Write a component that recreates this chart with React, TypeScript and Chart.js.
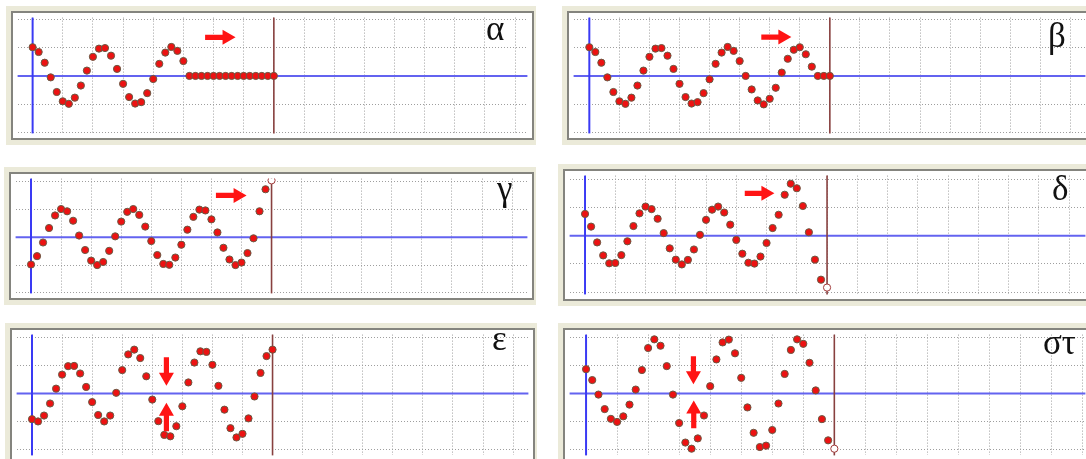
import React, { useEffect, useRef } from 'react';
import { Chart, registerables } from 'chart.js';

Chart.register(...registerables);

// ---------- data ----------
const xPositions = [
  0, 0.2, 0.4, 0.6, 0.8, 1, 1.2, 1.4, 1.6, 1.8, 2, 2.2, 2.4, 2.6, 2.8, 3, 3.2, 3.4, 3.6, 3.8, 4,
  4.2, 4.4, 4.6, 4.8, 5, 5.2, 5.4, 5.6, 5.8, 6, 6.2, 6.4, 6.6, 6.8, 7, 7.2, 7.4, 7.6, 7.8, 8,
];

const alphaValues = [
  1.02, 0.85, 0.47, -0.05, -0.57, -0.9, -0.99, -0.77, -0.34, 0.19, 0.68, 0.97, 0.99, 0.72, 0.25,
  -0.28, -0.75, -0.98, -0.93, -0.61, -0.11, 0.43, 0.83, 1.03, 0.89, 0.53, 0, 0, 0, 0, 0, 0, 0, 0,
  0, 0, 0, 0, 0, 0, 0,
];
const betaValues = [
  1.02, 0.85, 0.47, -0.05, -0.57, -0.9, -0.99, -0.77, -0.34, 0.19, 0.68, 0.97, 0.99, 0.72, 0.25,
  -0.28, -0.75, -0.98, -0.93, -0.61, -0.12, 0.43, 0.83, 1.03, 0.89, 0.53, 0.0, -0.48, -0.87, -1.01,
  -0.81, -0.42, 0.12, 0.61, 0.93, 1.02, 0.77, 0.33, 0, 0, 0,
];
const gammaValues = [
  -0.98, -0.68, -0.19, 0.33, 0.78, 1.01, 0.93, 0.59, 0.06, -0.46, -0.84, -1.0, -0.89, -0.49, 0.03,
  0.56, 0.91, 1.01, 0.8, 0.38, -0.14, -0.64, -0.96, -0.99, -0.73, -0.27, 0.27, 0.73, 0.99, 0.96,
  0.64, 0.17, -0.38, -0.8, -1.0, -0.91, -0.57, -0.04, 0.93, 1.72, 2.04,
];
const deltaValues = [
  0.77, 0.32, -0.24, -0.7, -0.98, -0.97, -0.69, -0.2, 0.34, 0.79, 1.03, 0.94, 0.6, 0.09, -0.45,
  -0.85, -1.02, -0.86, -0.49, 0.03, 0.56, 0.92, 1.03, 0.82, 0.39, -0.15, -0.64, -0.96, -0.99,
  -0.74, -0.26, 0.27, 0.74, 1.45, 1.84, 1.68, 1.05, 0.12, -0.85, -1.56, -1.84,
];
const epsilonValues = [
  -0.92, -1.0, -0.79, -0.36, 0.17, 0.67, 0.97, 0.98, 0.71, 0.23, -0.31, -0.77, -1.0, -0.79, 0.02,
  0.83, 1.39, 1.56, 1.26, 0.61, -0.22, -0.99, -1.48, -1.53, -1.17, -0.46, 0.39, 1.1, 1.5, 1.48,
  1.02, 0.27, -0.58, -1.24, -1.57, -1.44, -0.89, -0.11, 0.73, 1.33, 1.56,
];
const sigmaTauValues = [
  0.87, 0.48, -0.04, -0.56, -0.91, -1.02, -0.82, -0.4, 0.14, 0.84, 1.63, 1.94, 1.71, 0.98, -0.04,
  -1.06, -1.76, -1.98, -1.61, -0.79, 0.26, 1.22, 1.83, 1.93, 1.44, 0.56, -0.5, -1.41, -1.92, -1.87,
  -1.31, -0.36, 0.7, 1.56, 1.94, 1.78, 1.1, 0.11, -0.92, -1.68, -1.98,
];

const alphaArrows = [{ x1: 5.72, y1: 1.37, x2: 6.73, y2: 1.37 }];
const betaArrows = [{ x1: 5.72, y1: 1.38, x2: 6.72, y2: 1.38 }];
const gammaArrows = [{ x1: 6.15, y1: 1.5, x2: 7.17, y2: 1.5 }];
const deltaArrows = [{ x1: 5.28, y1: 1.5, x2: 6.26, y2: 1.5 }];
const epsilonArrows = [
  { x1: 4.47, y1: 1.29, x2: 4.47, y2: 0.27 },
  { x1: 4.47, y1: -1.35, x2: 4.47, y2: -0.33 },
];
const sigmaTauArrows = [
  { x1: 3.46, y1: 1.33, x2: 3.46, y2: 0.33 },
  { x1: 3.47, y1: -1.25, x2: 3.47, y2: -0.25 },
];

const gridXValues = [0, 1, 2, 3, 4, 5, 6, 7, 8, 9, 10, 11, 12, 13, 14, 15, 16];
const gridYValues = [-2, -1, 0, 1, 2];
const stringEndX = 8;

// ---------- layout ----------
type Arrow = { x1: number; y1: number; x2: number; y2: number };
type PanelSpec = {
  label: string;
  values: number[];
  arrows: Arrow[];
  hollowEnd: boolean;
  left: number;
  top: number;
  width: number;
  height: number;
  xMin: number;
  xMax: number;
  yMin: number;
  yMax: number;
  labelLeft: number;
  labelBaseline: number;
};

const panels: PanelSpec[] = [
  { label: 'α', values: alphaValues, arrows: alphaArrows, hollowEnd: false,
    left: 13, top: 13, width: 519, height: 125, xMin: -0.498, xMax: 16.408, yMin: -2.04, yMax: 2.072,
    labelLeft: 486, labelBaseline: 41 },
  { label: 'β', values: betaValues, arrows: betaArrows, hollowEnd: false,
    left: 569, top: 13, width: 521, height: 125, xMin: -0.523, xMax: 16.5, yMin: -2.04, yMax: 2.072,
    labelLeft: 1048, labelBaseline: 48 },
  { label: 'γ', values: gammaValues, arrows: gammaArrows, hollowEnd: true,
    left: 11, top: 174, width: 521, height: 124, xMin: -0.513, xMax: 16.51, yMin: -2.017, yMax: 2.103,
    labelLeft: 497, labelBaseline: 201 },
  { label: 'δ', values: deltaValues, arrows: deltaArrows, hollowEnd: true,
    left: 565, top: 171, width: 525, height: 128, xMin: -0.51, xMax: 16.54, yMin: -2.082, yMax: 2.128,
    labelLeft: 1052, labelBaseline: 201 },
  { label: 'ε', values: epsilonValues, arrows: epsilonArrows, hollowEnd: false,
    left: 12, top: 330, width: 521, height: 130, xMin: -0.513, xMax: 16.51, yMin: -2.21, yMax: 2.096,
    labelLeft: 492, labelBaseline: 351 },
  { label: 'στ', values: sigmaTauValues, arrows: sigmaTauArrows, hollowEnd: true,
    left: 565, top: 330, width: 525, height: 130, xMin: -0.53, xMax: 16.09, yMin: -2.22, yMax: 2.11,
    labelLeft: 1043, labelBaseline: 355 },
];

// ---------- plugin: axis lines, end line, arrows ----------
const markupPlugin = {
  id: 'markup',
  beforeDatasetsDraw(chart: any, _args: any, opts: any) {
    const { ctx, chartArea } = chart;
    const { left, right, top, bottom } = chartArea;
    const xs = chart.scales.x;
    const ys = chart.scales.y;
    ctx.save();
    const y0 = ys.getPixelForValue(0);
    ctx.strokeStyle = '#6363f0';
    ctx.lineWidth = 2;
    ctx.beginPath();
    ctx.moveTo(left, y0);
    ctx.lineTo(right, y0);
    ctx.stroke();
    const x0 = xs.getPixelForValue(0);
    ctx.strokeStyle = '#3a3af4';
    ctx.beginPath();
    ctx.moveTo(x0, top);
    ctx.lineTo(x0, bottom);
    ctx.stroke();
    const xe = xs.getPixelForValue(opts.endX);
    ctx.strokeStyle = '#88403f';
    ctx.lineWidth = 1.6;
    ctx.beginPath();
    ctx.moveTo(xe, top);
    ctx.lineTo(xe, bottom);
    ctx.stroke();
    ctx.restore();
  },
  afterDatasetsDraw(chart: any, _args: any, opts: any) {
    const { ctx } = chart;
    const xs = chart.scales.x;
    const ys = chart.scales.y;
    ctx.save();
    ctx.fillStyle = '#ff1414';
    for (const a of opts.arrows as Arrow[]) {
      const px1 = xs.getPixelForValue(a.x1);
      const py1 = ys.getPixelForValue(a.y1);
      const px2 = xs.getPixelForValue(a.x2);
      const py2 = ys.getPixelForValue(a.y2);
      const dx = px2 - px1;
      const dy = py2 - py1;
      const len = Math.hypot(dx, dy);
      const ux = dx / len;
      const uy = dy / len;
      const nx = -uy;
      const ny = ux;
      const headLen = 13;
      const headHalf = 7.5;
      const shaftHalf = 2.6;
      const bx = px2 - ux * headLen;
      const by = py2 - uy * headLen;
      ctx.beginPath();
      ctx.moveTo(px1 + nx * shaftHalf, py1 + ny * shaftHalf);
      ctx.lineTo(bx + nx * shaftHalf, by + ny * shaftHalf);
      ctx.lineTo(bx + nx * headHalf, by + ny * headHalf);
      ctx.lineTo(px2, py2);
      ctx.lineTo(bx - nx * headHalf, by - ny * headHalf);
      ctx.lineTo(bx - nx * shaftHalf, by - ny * shaftHalf);
      ctx.lineTo(px1 - nx * shaftHalf, py1 - ny * shaftHalf);
      ctx.closePath();
      ctx.fill();
    }
    ctx.restore();
  },
};

function Panel({ spec }: { spec: PanelSpec }) {
  const ref = useRef<HTMLCanvasElement | null>(null);
  useEffect(() => {
    if (!ref.current) return;
    const last = spec.values.length - 1;
    const data = spec.values.map((v, i) => ({ x: xPositions[i], y: v }));
    const gridCommon = {
      color: '#9e9e9e',
      lineWidth: 1,
      drawTicks: false,
      borderDash: [1, 2],
    };
    const chart = new Chart(ref.current, {
      type: 'scatter',
      data: {
        datasets: [
          {
            data,
            showLine: false,
            pointRadius: 3.6,
            pointHoverRadius: 3.6,
            pointBorderWidth: 1,
            pointBackgroundColor: (c: any) =>
              spec.hollowEnd && c.dataIndex === last ? '#ffffff' : '#ec1212',
            pointBorderColor: (c: any) =>
              spec.hollowEnd && c.dataIndex === last ? '#a03a3a' : '#6a5a44',
          },
        ],
      },
      options: {
        animation: false,
        responsive: false,
        maintainAspectRatio: false,
        events: [],
        layout: { padding: 0 },
        plugins: {
          legend: { display: false },
          tooltip: { enabled: false },
          title: { display: false },
          markup: { endX: stringEndX, arrows: spec.arrows },
        } as any,
        scales: {
          x: {
            type: 'linear',
            min: spec.xMin,
            max: spec.xMax,
            afterBuildTicks: (s: any) => {
              s.ticks = gridXValues.map((value) => ({ value }));
            },
            ticks: { display: false },
            grid: gridCommon as any,
            border: { display: false, dash: [1, 2] } as any,
          },
          y: {
            type: 'linear',
            min: spec.yMin,
            max: spec.yMax,
            afterBuildTicks: (s: any) => {
              s.ticks = gridYValues.map((value) => ({ value }));
            },
            ticks: { display: false },
            grid: gridCommon as any,
            border: { display: false, dash: [1, 2] } as any,
          },
        },
      },
      plugins: [markupPlugin as any],
    });
    return () => chart.destroy();
  }, [spec]);

  const g = 2; // gray border width
  return (
    <>
      <div
        style={{
          position: 'absolute',
          left: spec.left - g - 5,
          top: spec.top - g - 5,
          width: spec.width + 2 * g + 7,
          height: spec.height + 2 * g + 10,
          background: '#ebead9',
        }}
      />
      <div
        style={{
          position: 'absolute',
          left: spec.left - g,
          top: spec.top - g,
          width: spec.width,
          height: spec.height,
          border: `${g}px solid #84847e`,
          background: '#ffffff',
        }}
      />
      <canvas
        ref={ref}
        width={spec.width}
        height={spec.height}
        style={{
          position: 'absolute',
          left: spec.left,
          top: spec.top,
          width: spec.width,
          height: spec.height,
        }}
      />
      <div
        style={{
          position: 'absolute',
          left: spec.labelLeft,
          top: spec.labelBaseline - 30,
          fontFamily: '"Liberation Serif", "DejaVu Serif", serif',
          fontSize: 35,
          lineHeight: '35px',
          color: '#111',
          whiteSpace: 'nowrap',
        }}
      >
        {spec.label}
      </div>
    </>
  );
}

export default function App() {
  useEffect(() => {
    document.body.style.margin = '0';
  }, []);
  return (
    <div
      style={{
        position: 'fixed',
        left: 0,
        top: 0,
        width: 1086,
        height: 459,
        overflow: 'hidden',
        background: '#ffffff',
      }}
    >
      {panels.map((p) => (
        <Panel key={p.label} spec={p} />
      ))}
    </div>
  );
}
